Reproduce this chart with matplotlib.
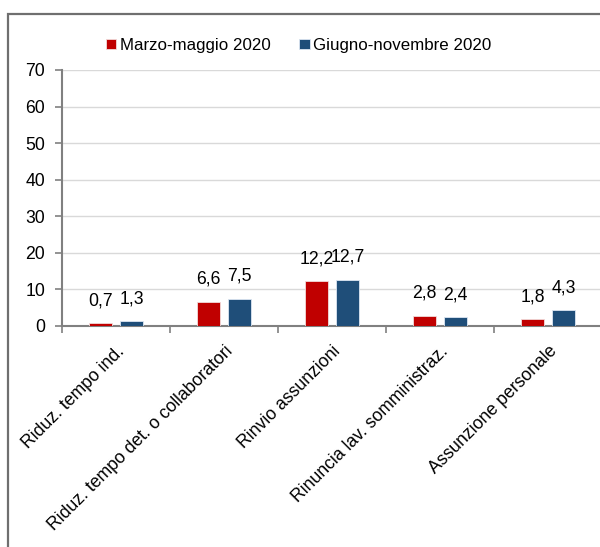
import numpy as np
import matplotlib.pyplot as plt
from matplotlib.patches import Rectangle

plt.rcParams['font.family'] = ['Liberation Sans', 'DejaVu Sans']

categories = ['Riduz. tempo ind.', 'Riduz. tempo det. o collaboratori',
              'Rinvio assunzioni', 'Rinuncia lav. somministraz.',
              'Assunzione personale']
marzo = [0.7, 6.6, 12.2, 2.8, 1.8]
giugno = [1.3, 7.5, 12.7, 2.4, 4.3]
series_names = ['Marzo-maggio 2020', 'Giugno-novembre 2020']

red = '#c00000'
blue = '#1f4e79'
fs = 12.7

fig = plt.figure(figsize=(6.0, 5.47), dpi=100)
ax = fig.add_axes([62/600, 1-326/547, 540/600, 256/547])

# cornice esterna
fig.patches.append(Rectangle((8/600, -0.1), 1.2, 0.1 + (547-14)/547,
                             transform=fig.transFigure, fill=False,
                             edgecolor='#6f6f6f', linewidth=1.6))

x = np.arange(len(categories))
w = 0.22
off = 0.143
b1 = ax.bar(x - off, marzo, w, color=red, edgecolor='#f2dcdb', linewidth=0.6,
            label=series_names[0], zorder=3)
b2 = ax.bar(x + off, giugno, w, color=blue, edgecolor='#dce6f2', linewidth=0.6,
            label=series_names[1], zorder=3)

for bars, vals in ((b1, marzo), (b2, giugno)):
    for r, v in zip(bars, vals):
        ax.annotate(f'{v:.1f}'.replace('.', ','),
                    (r.get_x() + r.get_width()/2, v),
                    xytext=(0, 10), textcoords='offset points',
                    ha='center', va='bottom', fontsize=fs)

ax.set_xlim(-0.5, len(categories) - 0.5)
ax.set_ylim(0, 70)
ax.set_yticks(range(0, 71, 10))
ax.yaxis.grid(True, color='#d9d9d9', linewidth=1, zorder=0)
ax.set_axisbelow(True)

ax.set_xticks(np.arange(len(categories) + 1) - 0.5)
ax.set_xticklabels([])
ax.set_xticks(x, minor=True)
ax.set_xticklabels(categories, minor=True, rotation=45, ha='right',
                   rotation_mode='anchor', fontsize=fs)
ax.tick_params(axis='x', which='minor', length=0, pad=12)
ax.tick_params(axis='x', which='major', length=5, color='#808080', width=1.2)
ax.tick_params(axis='y', length=5, color='#808080', width=1.2,
               labelsize=fs, pad=7)

for s in ('top', 'right'):
    ax.spines[s].set_visible(False)
for s in ('left', 'bottom'):
    ax.spines[s].set_color('#808080')
    ax.spines[s].set_linewidth(1.5)

ax.legend(loc='lower left', bbox_to_anchor=(0.06, 1.02), ncol=2, frameon=False,
          fontsize=12.2, handlelength=0.6, handleheight=0.6, handletextpad=0.2,
          columnspacing=1.7, borderaxespad=0.3)

fig.savefig('out.png', dpi=100)
